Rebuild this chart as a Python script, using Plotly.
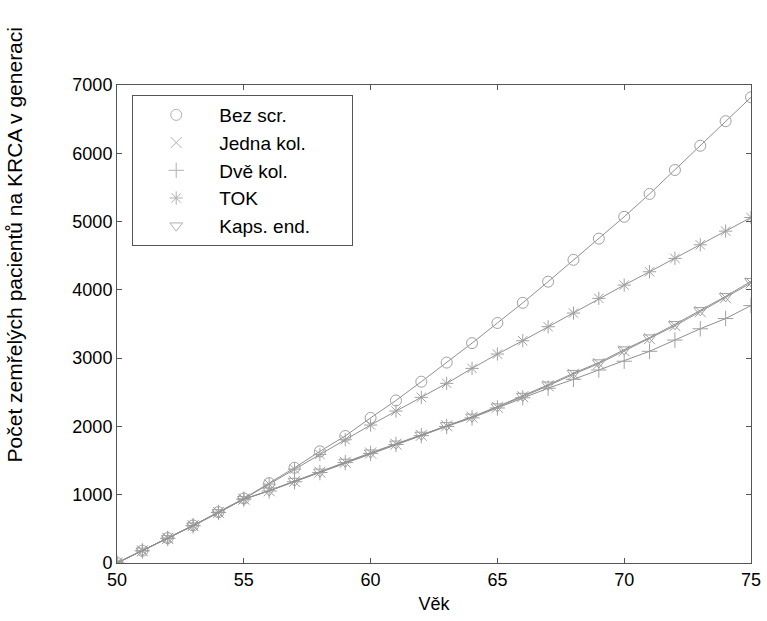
import plotly.graph_objects as go

ages = list(range(50, 76))

bez_scr = [0, 180, 365, 550, 745, 945, 1170, 1395, 1635, 1860, 2125, 2380, 2655,
           2935, 3220, 3515, 3810, 4120, 4440, 4750, 5070, 5405, 5755, 6110, 6470, 6820]
jedna_kol = [0, 178, 360, 545, 740, 935, 1058, 1195, 1330, 1475, 1610, 1740, 1870,
             2010, 2135, 2280, 2435, 2595, 2765, 2920, 3105, 3285, 3475, 3680, 3885, 4100]
dve_kol = [0, 178, 360, 545, 740, 935, 1055, 1190, 1325, 1470, 1605, 1735, 1865,
           2000, 2125, 2270, 2420, 2560, 2690, 2826, 2955, 3100, 3265, 3430, 3580, 3770]
tok = [0, 180, 365, 550, 745, 940, 1155, 1375, 1590, 1805, 2020, 2225, 2426,
       2631, 2850, 3060, 3255, 3460, 3660, 3875, 4070, 4265, 4461, 4660, 4860, 5060]
kaps_end = [0, 178, 360, 545, 740, 935, 1060, 1200, 1335, 1480, 1615, 1745, 1875,
            2015, 2140, 2290, 2445, 2610, 2780, 2935, 3125, 3300, 3495, 3700, 3905, 4125]

series_names = ["Bez scr.", "Jedna kol.", "Dvě kol.", "TOK", "Kaps. end."]
series_values = [bez_scr, jedna_kol, dve_kol, tok, kaps_end]
symbols = ["circle-open", "x-thin-open", "cross-thin-open", "asterisk-open", "triangle-down-open"]

x_ticks = [50, 55, 60, 65, 70, 75]
y_ticks = [0, 1000, 2000, 3000, 4000, 5000, 6000, 7000]

FONT = "Liberation Sans, Arial, sans-serif"
LINE = "#8f8f8f"
MARK = "#a0a0a0"

fig = go.Figure()
for i, (name, vals, sym) in enumerate(zip(series_names, series_values, symbols)):
    fig.add_trace(go.Scatter(
        x=ages, y=vals, mode="lines+markers", name=name, showlegend=False,
        line=dict(color=LINE, width=1),
        marker=dict(symbol=sym, size=11, color=MARK, line=dict(color=MARK, width=1)),
    ))
for i, (name, sym) in enumerate(zip(series_names, symbols)):
    fig.add_trace(go.Scatter(
        x=[None], y=[None], mode="markers", name=name + "\u00a0" * 7, legendgroup=f"g{i}",
        marker=dict(symbol=sym, size=11, color="#b0b0b0", line=dict(color="#b0b0b0", width=1)),
    ))

axis_common = dict(
    showgrid=False, zeroline=False, showline=True, linecolor="#555", linewidth=1,
    mirror="ticks", ticks="inside", ticklen=5, tickcolor="#555",
    tickfont=dict(family=FONT, size=18, color="black"),
)
fig.update_xaxes(range=[50, 75], tickvals=x_ticks, ticktext=[str(v) for v in x_ticks],
                 title=dict(text="Věk", font=dict(family=FONT, size=18, color="black"), standoff=8),
                 **axis_common)
fig.update_yaxes(range=[0, 7000], tickvals=y_ticks, ticktext=[str(v) for v in y_ticks],
                 **axis_common)

fig.add_annotation(
    text="Počet zemřelých pacientů na KRCA v generaci",
    xref="paper", yref="paper", x=-0.162, y=0.665, xanchor="center", yanchor="middle",
    textangle=-90, showarrow=False,
    font=dict(family=FONT, size=21, color="black"),
)

fig.update_layout(
    width=767, height=621,
    margin=dict(l=117, r=16, t=85, b=58, autoexpand=False),
    paper_bgcolor="white", plot_bgcolor="white",
    font=dict(family=FONT, size=18, color="black"),
    legend=dict(x=0.024, y=0.979, xanchor="left", yanchor="top",
                bgcolor="white", bordercolor="#555", borderwidth=1,
                font=dict(family=FONT, size=19, color="black"),
                tracegroupgap=0, itemwidth=76),
)

fig.write_html("out.html")
